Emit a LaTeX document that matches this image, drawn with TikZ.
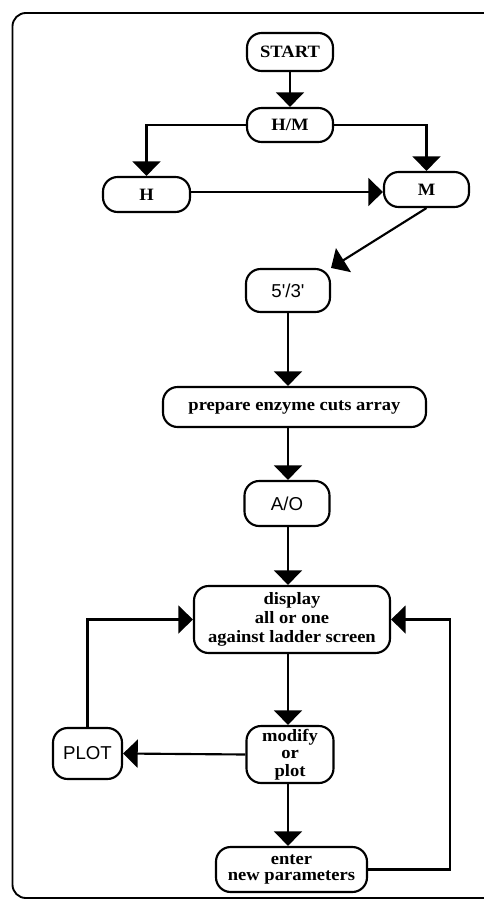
\documentclass[tikz,border=0pt]{standalone}
\usepackage{fontspec}
\setmainfont{Liberation Serif}
\newfontfamily\serfont[FakeStretch=1.07]{Liberation Serif}
\newfontfamily\sanfont[Ligatures=TeXOff]{Liberation Sans}
\usetikzlibrary{arrows.meta}
\begin{document}
\begin{tikzpicture}[x=0.75pt,y=-0.75pt,
  box/.style={draw, line width=1.6pt, rounded corners=11pt, inner sep=0pt, align=center,
    font=\serfont\bfseries\fontsize{13}{13}\selectfont},
  sbox/.style={box, font=\sanfont\fontsize{14}{16}\selectfont},
  arr/.style={line width=1.6pt, -{Triangle[width=21pt,length=11pt]}},
  ln/.style={line width=1.6pt}]
\useasboundingbox (0,0) rectangle (483,900);
% frame
\draw[line width=1.4pt, rounded corners=10pt] (495,13) -- (12.5,13) -- (12.5,898) -- (495,898);

% nodes
\node[box, minimum width=64.5pt, minimum height=28.5pt] (start) at (290,52) {START};
\node[box, minimum width=64.5pt, minimum height=25.5pt] (hm) at (290,125) {H/M};
\node[box, minimum width=65.25pt, minimum height=26.25pt] (h) at (146.5,194.5) {H};
\node[box, minimum width=63.75pt, minimum height=26.25pt] (m) at (426.5,189.5) {M};
\node[sbox, minimum width=63pt, minimum height=32.25pt] (s53) at (288,290.5) {5'/3'};
\node[box, minimum width=197.25pt, minimum height=30pt] (prep) at (294.5,407) {prepare enzyme cuts array};
\node[sbox, minimum width=63.75pt, minimum height=33.75pt] (ao) at (287,503.5) {A/O};
\node[box, minimum width=147pt, minimum height=50.25pt,
  font=\serfont\bfseries\fontsize{13}{14.5}\selectfont] (disp) at (292,619.5)
  {display\\all or one\\against ladder screen};
\node[box, minimum width=65.25pt, minimum height=42.75pt] (mod) at (290,754.5) {modify\\or\\plot};
\node[sbox, minimum width=51.75pt, minimum height=38.25pt] (plot) at (87.5,753.5) {PLOT};
\node[box, minimum width=113.25pt, minimum height=33.75pt,
  font=\serfont\bfseries\fontsize{13}{12.5}\selectfont] (ent) at (291.5,869.5) {enter\\new parameters};
\coordinate (rc) at (450,0);

% connectors
\draw[arr] (start.south) -- (start.south |- hm.north);
\draw[arr] (hm.west) -| (h.north);
\draw[arr] (hm.east) -| (m.north);
\draw[arr] (h.east |- 0,192) -- (m.west |- 0,192);
\draw[arr] (m.south) -- (s53.north east);
\draw[arr] (s53.south) -- (s53.south |- prep.north);
\draw[arr] (s53.south |- prep.south) -- (s53.south |- ao.north);
\draw[arr] (s53.south |- ao.south) -- (s53.south |- disp.north);
\draw[arr] (s53.south |- disp.south) -- (s53.south |- mod.north);
\draw[arr] (s53.south |- mod.south) -- (s53.south |- ent.north);
\draw[arr] (mod.west) -- (plot.east);
\draw[arr] (plot.north) |- (disp.west);
\draw[arr] (ent.east) -- (ent.east -| rc) |- (disp.east);
\end{tikzpicture}
\end{document}
